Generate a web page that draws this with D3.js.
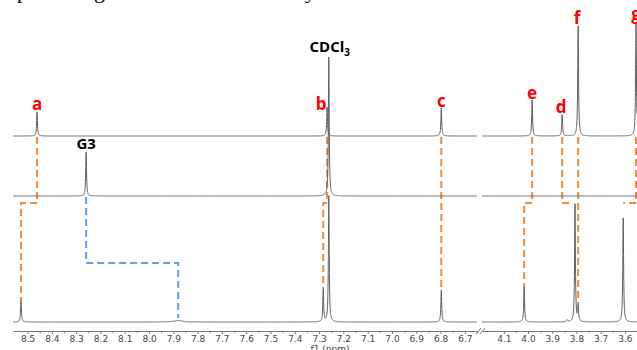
<!DOCTYPE html>
<html>
<head>
<meta charset="utf-8">
<script src="https://cdn.jsdelivr.net/npm/d3@7"></script>
<style>
  html, body { margin: 0; padding: 0; background: #fff; }
  svg { display: block; }
</style>
</head>
<body>
<svg id="chart" width="637" height="350"></svg>
<script>
// peak lists (shift in ppm, height in px units)
const topShifts  = [8.461, 7.267, 6.797, 3.983, 3.859, 3.793, 3.554];
const topHeights = [24, 29, 28, 36, 21, 110, 112];
const topNames   = ["a", "b", "c", "e", "d", "f", "g"];

const midShifts  = [8.259, 7.260];
const midHeights = [44, 139];

const botShifts  = [8.527, 7.880, 7.283, 7.260, 6.797, 4.016, 3.839, 3.806, 3.793, 3.607];
const botHeights = [22, 1.5, 32, 126, 32, 36, 2, 118, 16, 104];
const botWidths  = [0.002, 0.02, 0.002, 0.002, 0.002, 0.002, 0.003, 0.002, 0.002, 0.002];

const leftTicks  = [8.5, 8.4, 8.3, 8.2, 8.1, 8.0, 7.9, 7.8, 7.7, 7.6, 7.5, 7.4, 7.3, 7.2, 7.1, 7.0, 6.9, 6.8, 6.7];
const rightTicks = [4.1, 4.0, 3.9, 3.8, 3.7, 3.6];

// orange guides: top-trace peak -> bottom-trace peak (stop = no final drop)
const linkFrom = [8.461, 7.267, 6.797, 3.983, 3.859, 3.793, 3.554];
const linkTo   = [8.527, 7.283, 6.797, 4.016, 3.826, 3.793, 3.607];
const linkStop = [false, false, false, false, true, false, true];

const svg = d3.select("#chart");

const xL = d3.scaleLinear().domain([8.56, 6.65]).range([13, 477]);
const xR = d3.scaleLinear().domain([4.19, 3.55]).range([482, 637]);
const xOf = p => p > 5 ? xL(p) : xR(p);
const hy = d3.scaleLinear().domain([0, 100]).range([0, 100]);

const base = {top: 136, mid: 196, bot: 322};
const axisY = 331;
const jogY = 203;

// caption line above the figure, only its descenders show
svg.append("g")
  .style("font-family", "Liberation Serif")
  .style("font-size", "22px")
  .selectAll("text")
  .data([["p", 17], ["g", 94], ["y", 305]])
  .enter().append("text")
  .attr("x", d => d[1]).attr("y", -2)
  .text(d => d[0]);

function spectrum(ppm, shifts, heights, widths) {
  let s = 0;
  shifts.forEach((c, i) => {
    const w = widths ? widths[i] : 0.002;
    const d = (ppm - c) / w;
    s += heights[i] / (1 + d * d);
  });
  return s;
}

const line = d3.line().x(d => d[0]).y(d => d[1]);

function drawTrace(y0, shifts, heights, widths) {
  [xL, xR].forEach(sc => {
    const [hi, lo] = sc.domain();
    const pts = d3.range(hi, lo, -0.0005).concat(shifts.filter(s => s <= hi && s >= lo));
    pts.sort((a, b) => b - a);
    svg.append("path")
      .attr("d", line(pts.map(p => [sc(p), y0 - hy(spectrum(p, shifts, heights, widths))])))
      .attr("fill", "none")
      .attr("stroke", "#5f5f5f")
      .attr("stroke-width", 1);
  });
}

// dashed guides first, traces on top
const guides = svg.append("g").attr("fill", "none").attr("stroke-width", 2).attr("stroke-dasharray", "7,4");
linkFrom.forEach((f, i) => {
  const x1 = xOf(f), x2 = xOf(linkTo[i]);
  const end = base.bot - hy(spectrum(linkTo[i], botShifts, botHeights, botWidths));
  const pts = [[x1, base.top + 1], [x1, jogY], [x2, jogY]];
  if (!linkStop[i]) pts.push([x2, end]);
  if (x1 === x2) pts.splice(1, 2);
  guides.append("path").attr("d", d3.line()(pts)).attr("stroke", "#f28a3c");
});
// blue guide: G3 -> its shifted signal
guides.append("path")
  .attr("d", d3.line()([
    [xOf(midShifts[0]), base.mid + 1], [xOf(midShifts[0]), 263],
    [xOf(botShifts[1]), 263], [xOf(botShifts[1]), base.bot - 4]]))
  .attr("stroke", "#5fa2de");

drawTrace(base.top, topShifts, topHeights);
drawTrace(base.mid, midShifts, midHeights);
drawTrace(base.bot, botShifts, botHeights, botWidths);

// peak labels
const labelOff = {a: [0, -2], b: [-6, 3], c: [0, -1], e: [0, -1], d: [-1, -2], f: [-1, -2], g: [0, -4]};
svg.append("g")
  .style("font-family", "Open Sans").style("font-weight", "bold").style("font-size", "17px")
  .attr("fill", "#ff0000").attr("text-anchor", "middle")
  .selectAll("text").data(topNames).enter().append("text")
  .attr("x", (d, i) => xOf(topShifts[i]) + labelOff[d][0])
  .attr("y", (d, i) => base.top - hy(topHeights[i]) + labelOff[d][1])
  .text(d => d);

const solvent = svg.append("text")
  .attr("x", xOf(midShifts[1]) + 1).attr("y", base.mid - hy(midHeights[1]) - 5)
  .attr("text-anchor", "middle")
  .style("font-family", "Open Sans").style("font-weight", "bold").style("font-size", "15px");
solvent.append("tspan").text("CDCl");
solvent.append("tspan").attr("dy", 4).style("font-size", "10px").text("3");

const g3 = svg.append("text")
  .attr("x", xOf(midShifts[0])).attr("y", base.mid - hy(midHeights[0]) - 3)
  .attr("text-anchor", "middle")
  .style("font-family", "Open Sans").style("font-weight", "bold").style("font-size", "15px");
g3.append("tspan").text("G3");

// broken ppm axis
function minors(ticks) {
  const m = ticks.map(t => +(t - 0.05).toFixed(2));
  return m;
}
[[xL, leftTicks], [xR, rightTicks]].forEach(([sc, ticks]) => {
  const ax = svg.append("g").attr("transform", `translate(0,${axisY})`)
    .call(d3.axisBottom(sc).tickValues(ticks).tickFormat(d3.format(".1f")).tickSize(3).tickSizeOuter(0).tickPadding(2));
  ax.append("g").call(d3.axisBottom(sc).tickValues(minors(ticks).filter(t => t >= sc.domain()[1]))
    .tickFormat("").tickSize(2).tickSizeOuter(0))
    .select(".domain").remove();
  ax.selectAll("path, line").attr("stroke", "#777");
  ax.selectAll("text").attr("fill", "#444").style("font-family", "DejaVu Sans").style("font-size", "9px");
});
svg.append("path")
  .attr("d", "M476,334L481,328M480,334L485,328")
  .attr("stroke", "#777").attr("fill", "none");

svg.append("text")
  .attr("x", 330).attr("y", 352).attr("text-anchor", "middle")
  .attr("fill", "#444").style("font-family", "DejaVu Sans").style("font-size", "9px")
  .text("f1 (ppm)");
</script>
</body>
</html>
